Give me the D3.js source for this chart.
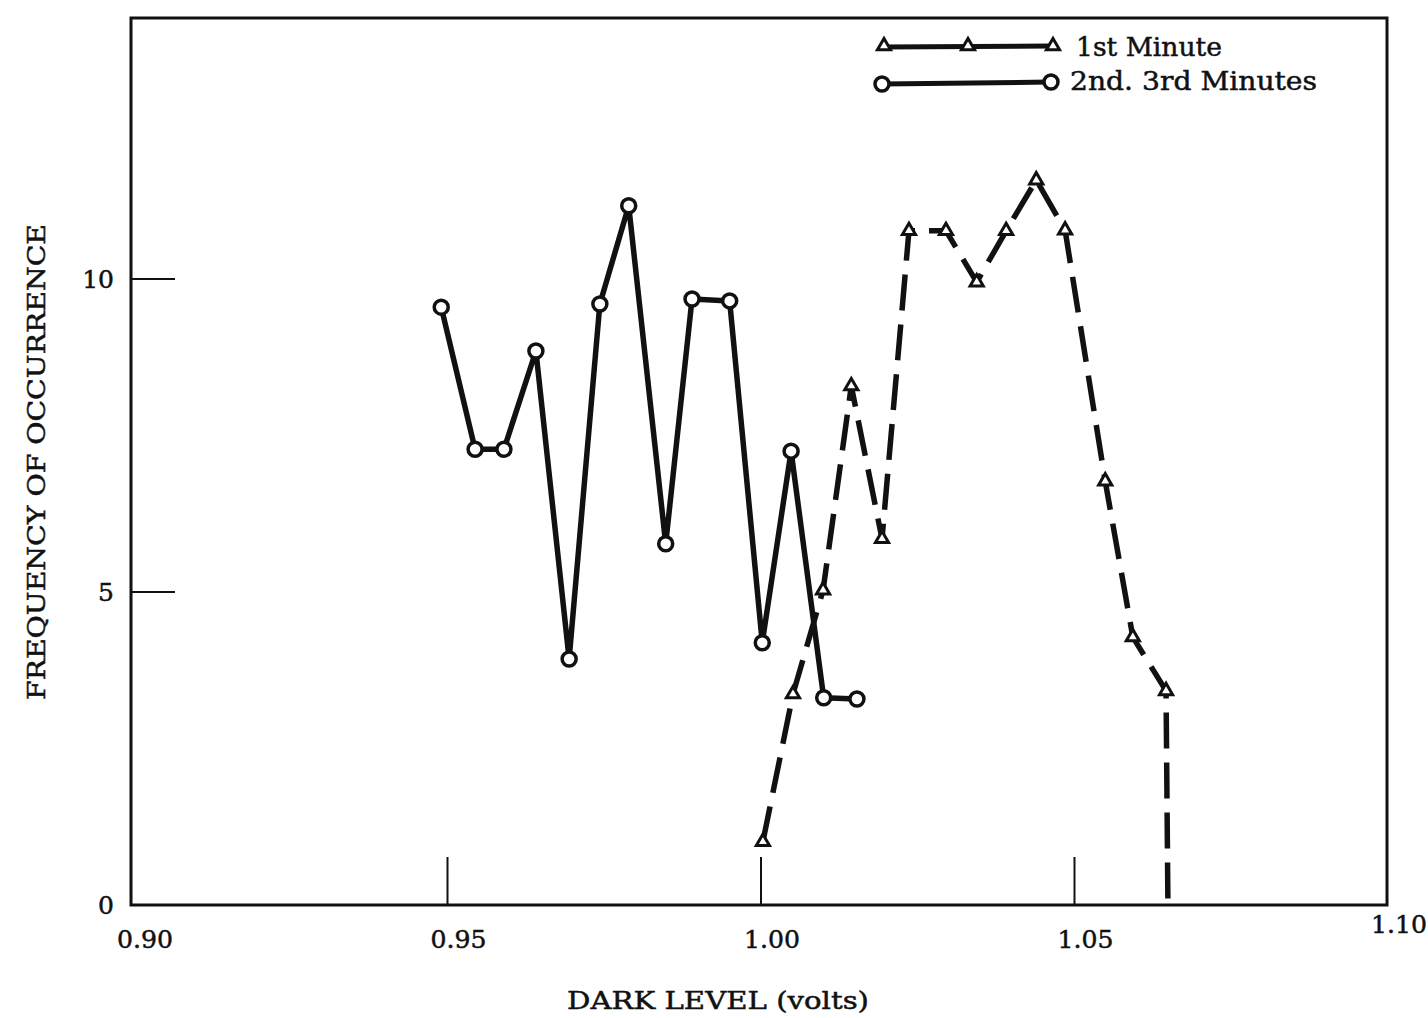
<!DOCTYPE html>
<html>
<head>
<meta charset="utf-8">
<script src="https://cdn.jsdelivr.net/npm/d3@7"></script>
<style>
  html, body { margin: 0; padding: 0; background: #fff; }
  svg { display: block; }
  text { font-family: "DejaVu Serif", "Liberation Serif", serif; fill: #111; stroke: #111; stroke-width: 0.5px; }
</style>
</head>
<body>
<svg id="chart" width="1428" height="1018"></svg>
<script>
// ---- data ----
const xTicks = [0.90, 0.95, 1.00, 1.05, 1.10];
const xTickLabels = ["0.90", "0.95", "1.00", "1.05", "1.10"];
const yTicks = [0, 5, 10];
const yTickLabels = ["0", "5", "10"];

const secondThirdX = [0.9490, 0.9544, 0.9590, 0.9641, 0.9694, 0.9743, 0.9789, 0.9848, 0.9890, 0.9950, 1.0002, 1.0048, 1.0100, 1.0153];
const secondThirdY = [9.55, 7.28, 7.28, 8.85, 3.93, 9.60, 11.17, 5.77, 9.68, 9.65, 4.19, 7.25, 3.31, 3.29];

const firstX = [1.0003, 1.0051, 1.0099, 1.0144, 1.0193, 1.0236, 1.0295, 1.0344, 1.0391, 1.0439, 1.0485, 1.0549, 1.0593, 1.0646, 1.0649];
const firstY = [1.01, 3.37, 5.03, 8.29, 5.85, 10.77, 10.77, 9.95, 10.77, 11.58, 10.78, 6.77, 4.28, 3.42, 0];
const firstMarker = [1,1,1,1,1,1,1,1,1,1,1,1,1,1,0];

const seriesNames = ["1st Minute", "2nd. 3rd Minutes"];

// ---- layout ----
const svg = d3.select("#chart");
const padL = 134, padR = 1388, padT = 18, padB = 905;

const x = d3.scaleLinear().domain([0.90, 1.10]).range([padL, padR]);
const y = d3.scaleLinear().domain([0, 10]).range([padB, 279]);

// frame
svg.append("rect")
  .attr("x", padL - 3).attr("y", padT)
  .attr("width", padR - padL + 2).attr("height", padB - padT)
  .attr("fill", "none").attr("stroke", "#111").attr("stroke-width", 3);

// x ticks (inward, up from the bottom)
svg.append("g").selectAll("line")
  .data(xTicks.slice(1, 4))
  .join("line")
  .attr("x1", d => x(d)).attr("x2", d => x(d))
  .attr("y1", padB).attr("y2", padB - 48)
  .attr("stroke", "#111").attr("stroke-width", 2);

svg.append("g").selectAll("text")
  .data(xTicks)
  .join("text")
  .attr("x", d => x(d) + 11)
  .attr("y", (d, i) => i === 4 ? 933 : 948)
  .attr("text-anchor", "middle")
  .attr("font-size", 25)
  .attr("textLength", 56).attr("lengthAdjust", "spacingAndGlyphs")
  .text((d, i) => xTickLabels[i]);

// y ticks (inward)
svg.append("g").selectAll("line")
  .data(yTicks.slice(1))
  .join("line")
  .attr("x1", padL - 2).attr("x2", padL + 41)
  .attr("y1", d => y(d)).attr("y2", d => y(d))
  .attr("stroke", "#111").attr("stroke-width", 2);

svg.append("g").selectAll("text")
  .data(yTicks)
  .join("text")
  .attr("x", 114)
  .attr("y", d => y(d) + 9)
  .attr("text-anchor", "end")
  .attr("font-size", 25)
  .text((d, i) => yTickLabels[i]);

// axis titles
svg.append("text")
  .attr("x", 718).attr("y", 1009)
  .attr("text-anchor", "middle")
  .attr("font-size", 25)
  .attr("textLength", 302).attr("lengthAdjust", "spacingAndGlyphs")
  .text("DARK LEVEL (volts)");

svg.append("text")
  .attr("transform", "translate(45,462) rotate(-90)")
  .attr("text-anchor", "middle")
  .attr("font-size", 25)
  .attr("textLength", 476).attr("lengthAdjust", "spacingAndGlyphs")
  .text("FREQUENCY OF OCCURRENCE");

// ---- series ----
const line = d3.line().x(d => x(d[0])).y(d => y(d[1]));

const s2 = secondThirdX.map((v, i) => [v, secondThirdY[i]]);
const s1 = firstX.map((v, i) => [v, firstY[i], firstMarker[i]]);

svg.append("path")
  .datum(s1)
  .attr("d", line)
  .attr("fill", "none").attr("stroke", "#111")
  .attr("stroke-width", 5.5)
  .attr("stroke-dasharray", "36,14");

svg.append("path")
  .datum(s2)
  .attr("d", line)
  .attr("fill", "none").attr("stroke", "#111")
  .attr("stroke-width", 5.5)
  .attr("stroke-linejoin", "round");

const tri = d3.symbol().type(d3.symbolTriangle).size(75);

svg.append("g").selectAll("path")
  .data(s1.filter(d => d[2]))
  .join("path")
  .attr("d", tri)
  .attr("transform", d => `translate(${x(d[0])},${y(d[1])})`)
  .attr("fill", "#fff").attr("stroke", "#111").attr("stroke-width", 3);

svg.append("g").selectAll("circle")
  .data(s2)
  .join("circle")
  .attr("cx", d => x(d[0])).attr("cy", d => y(d[1]))
  .attr("r", 7)
  .attr("fill", "#fff").attr("stroke", "#111").attr("stroke-width", 3.5);

// ---- legend ----
const lg = svg.append("g");
lg.append("line").attr("x1", 884).attr("x2", 1053).attr("y1", 47).attr("y2", 46)
  .attr("stroke", "#111").attr("stroke-width", 5);
lg.selectAll("path.lt")
  .data([884, 968, 1053])
  .join("path")
  .attr("class", "lt")
  .attr("d", tri)
  .attr("transform", d => `translate(${d},46)`)
  .attr("fill", "#fff").attr("stroke", "#111").attr("stroke-width", 3);
lg.append("text").attr("x", 1076).attr("y", 56)
  .attr("font-size", 26).attr("textLength", 146).attr("lengthAdjust", "spacingAndGlyphs")
  .text(seriesNames[0]);

lg.append("line").attr("x1", 882).attr("x2", 1051).attr("y1", 84).attr("y2", 82)
  .attr("stroke", "#111").attr("stroke-width", 5);
lg.selectAll("circle")
  .data([[882, 84], [1051, 82]])
  .join("circle")
  .attr("cx", d => d[0]).attr("cy", d => d[1]).attr("r", 7)
  .attr("fill", "#fff").attr("stroke", "#111").attr("stroke-width", 3.5);
lg.append("text").attr("x", 1070).attr("y", 90)
  .attr("font-size", 26).attr("textLength", 247).attr("lengthAdjust", "spacingAndGlyphs")
  .text(seriesNames[1]);
</script>
</body>
</html>
